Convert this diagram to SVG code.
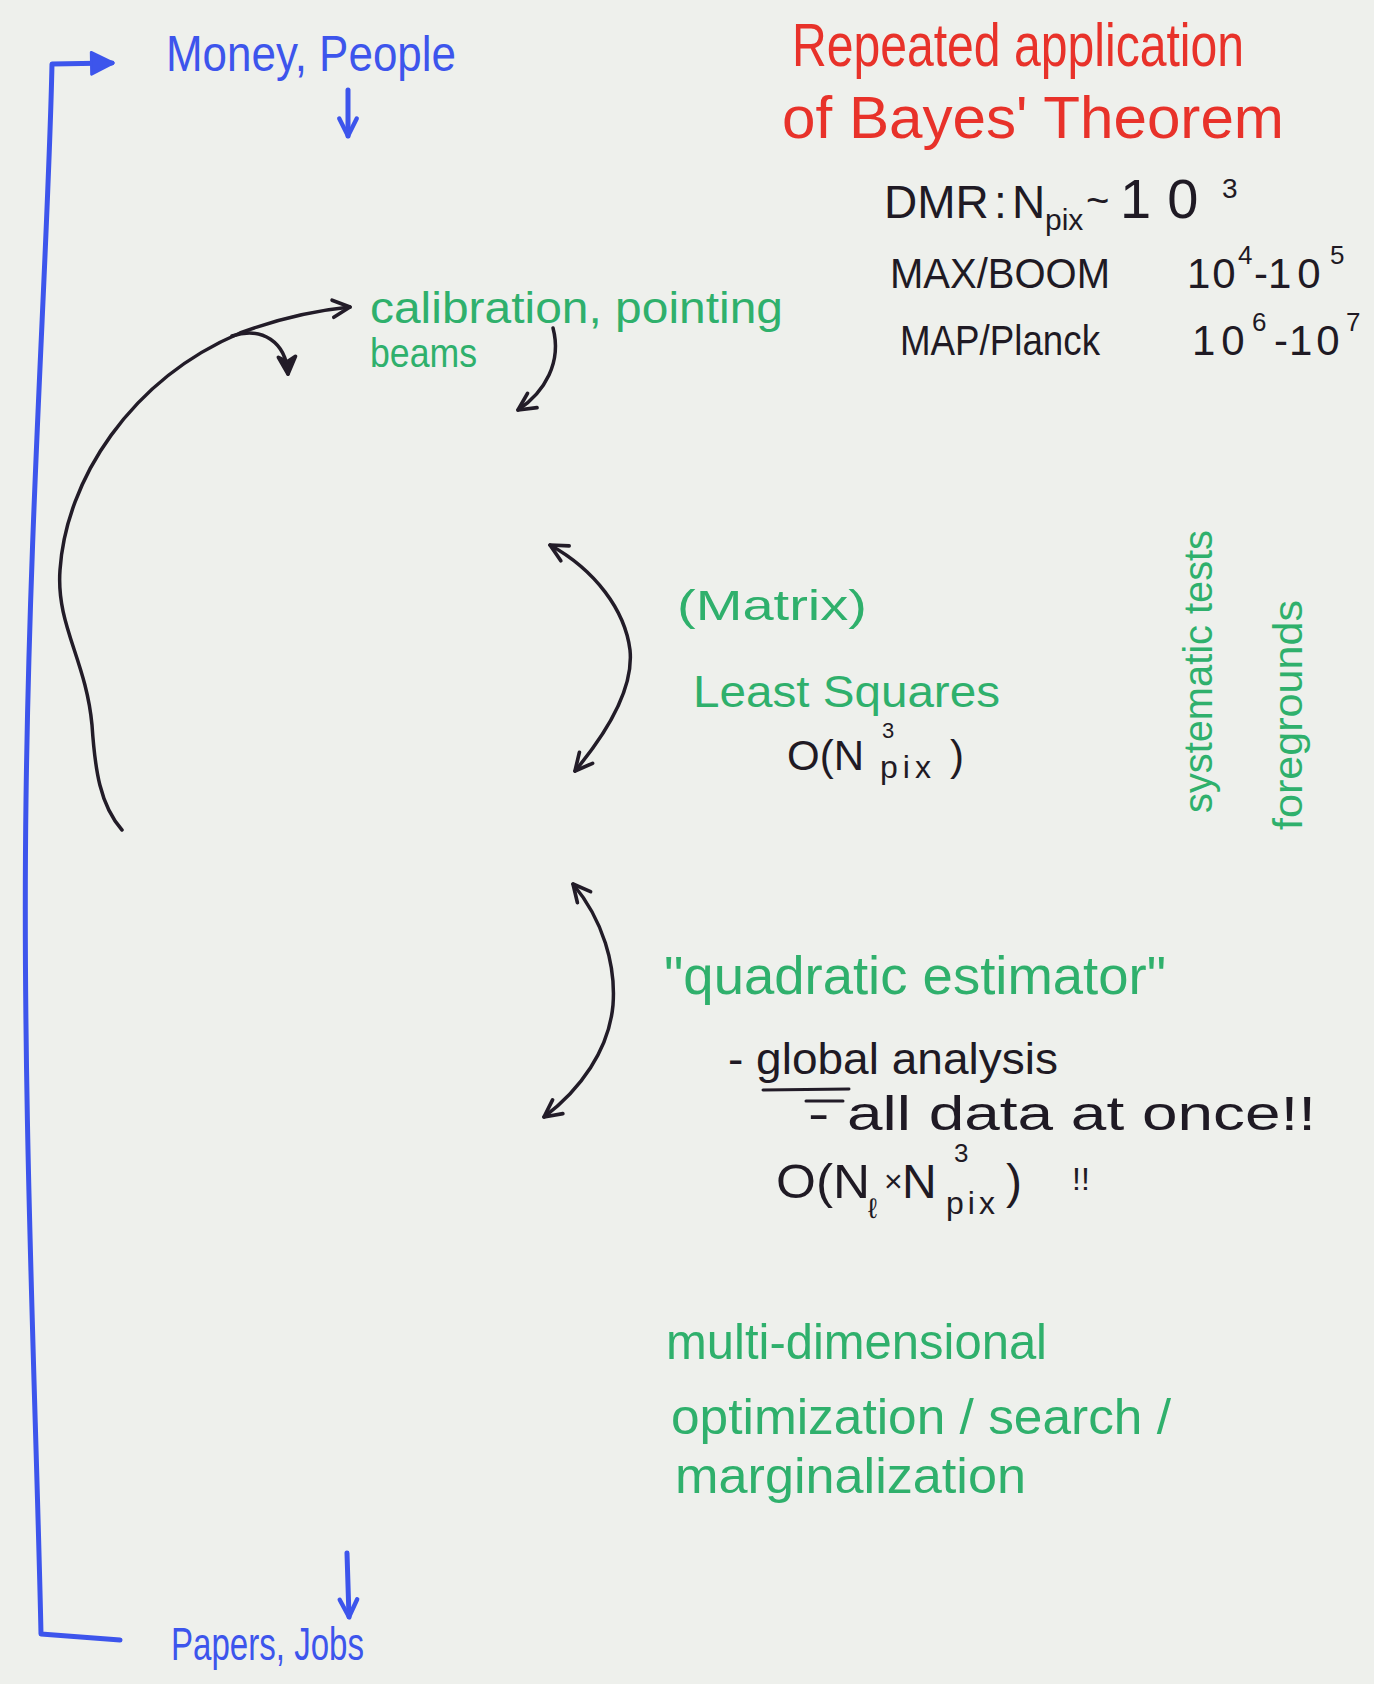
<svg xmlns="http://www.w3.org/2000/svg" width="1374" height="1684" viewBox="0 0 1374 1684">
<style>
  .t{font-family:"Liberation Sans","DejaVu Sans",sans-serif;}
  .blue{fill:#3d55ec;}
  .red{fill:#e8322a;}
  .green{fill:#2fb06c;}
  .black{fill:#1f1a24;}
  .ck{fill:none;stroke:#221c28;stroke-width:3.5;stroke-linecap:round;stroke-linejoin:round;}
  .cb{fill:none;stroke:#3d55ec;stroke-width:5;stroke-linecap:round;stroke-linejoin:round;}
</style>
<defs>
  <marker id="ahk" viewBox="0 0 20 20" refX="17" refY="10" markerWidth="7" markerHeight="7" markerUnits="strokeWidth" orient="auto-start-reverse">
    <path d="M3,3 L17,10 L3,17" fill="none" stroke="#221c28" stroke-width="3" stroke-linecap="round" stroke-linejoin="round"/>
  </marker>
  <marker id="ahkf" viewBox="0 0 20 20" refX="17" refY="10" markerWidth="7" markerHeight="7" markerUnits="strokeWidth" orient="auto">
    <path d="M3,3 L17,10 L3,17 L7,10 z" fill="#221c28" stroke="#221c28" stroke-width="3" stroke-linejoin="round"/>
  </marker>
  <marker id="ahb" viewBox="0 0 20 20" refX="17" refY="10" markerWidth="5" markerHeight="5" markerUnits="strokeWidth" orient="auto">
    <path d="M3,3 L17,10 L3,17" fill="none" stroke="#3d55ec" stroke-width="3.5" stroke-linecap="round" stroke-linejoin="round"/>
  </marker>
  <marker id="ahbt" viewBox="0 0 20 20" refX="17" refY="10" markerWidth="5.5" markerHeight="6" markerUnits="strokeWidth" orient="auto">
    <path d="M2,2 L18,10 L2,18 z" fill="#3d55ec" stroke="#3d55ec" stroke-width="2" stroke-linejoin="round"/>
  </marker>
</defs>
<rect x="0" y="0" width="1374" height="1684" fill="#eef0ec"/>

<g id="connectors">
  <path id="feedback-loop" class="cb" d="M120,1640 L41,1634 C 36,1400 22,1100 26,800 C 30,500 48,250 52,64 L112,63" marker-end="url(#ahbt)"/>
  <path id="money-down" class="cb" d="M348,90 L348,136" marker-end="url(#ahb)"/>
  <path id="papers-down" class="cb" d="M347,1553 L349,1617" marker-end="url(#ahb)"/>
  <path id="big-loop" class="ck" d="M122,830 C 100,805 95,770 92,725 C 86,660 56,625 60,570 C 66,480 130,380 240,333 C 280,318 320,310 350,307" marker-end="url(#ahk)"/>
  <path id="big-loop-branch" class="ck" d="M232,336 C 262,326 286,342 288,374" marker-end="url(#ahkf)"/>
  <path id="calib-down" class="ck" d="M553,328 C 562,362 545,392 518,410" marker-end="url(#ahk)"/>
  <path id="matrix-loop" class="ck" d="M550,545 C 595,570 625,610 630,650 C 634,690 605,735 575,771" marker-start="url(#ahk)" marker-end="url(#ahk)"/>
  <path id="quad-loop" class="ck" d="M573,884 C 603,920 616,965 613,1005 C 609,1050 580,1090 544,1117" marker-start="url(#ahk)" marker-end="url(#ahk)"/>
  <path id="global-underline" class="ck" d="M763,1090 L849,1089 M806,1101 L843,1101" style="stroke-width:3"/>
</g>

<g id="money-people">
  <text class="t blue" x="166" y="71" font-size="50" textLength="290" lengthAdjust="spacingAndGlyphs">Money, People</text>
</g>

<g id="papers-jobs">
  <text class="t blue" x="171" y="1660" font-size="46" textLength="193" lengthAdjust="spacingAndGlyphs">Papers, Jobs</text>
</g>

<g id="title">
  <text class="t red" x="792" y="66" font-size="62" textLength="452" lengthAdjust="spacingAndGlyphs">Repeated application</text>
  <text class="t red" x="782" y="138" font-size="60" textLength="502" lengthAdjust="spacingAndGlyphs">of Bayes' Theorem</text>
</g>

<g id="pixel-counts">
  <text class="t black" font-size="46" y="218"><tspan x="884">DMR</tspan><tspan x="994">:</tspan><tspan x="1012">N</tspan><tspan x="1045" y="230" font-size="30">pix</tspan><tspan x="1086" y="214" font-size="40">~</tspan><tspan x="1120" y="218" font-size="56" letter-spacing="16">10</tspan><tspan x="1222" y="198" font-size="28">3</tspan></text>
  <text class="t black" font-size="42" y="288"><tspan x="890" textLength="220" lengthAdjust="spacingAndGlyphs">MAX/BOOM</tspan><tspan x="1187" letter-spacing="2">10</tspan><tspan x="1238" y="264" font-size="26">4</tspan><tspan x="1254" y="288">-</tspan><tspan x="1268" letter-spacing="6">10</tspan><tspan x="1330" y="264" font-size="26">5</tspan></text>
  <text class="t black" font-size="42" y="355"><tspan x="900" textLength="200" lengthAdjust="spacingAndGlyphs">MAP/Planck</tspan><tspan x="1192" letter-spacing="6">10</tspan><tspan x="1252" y="331" font-size="26">6</tspan><tspan x="1274" y="355">-</tspan><tspan x="1289" letter-spacing="4">10</tspan><tspan x="1346" y="331" font-size="26">7</tspan></text>
</g>

<g id="calibration">
  <text class="t green" x="370" y="323" font-size="44" textLength="413" lengthAdjust="spacingAndGlyphs">calibration, pointing</text>
  <text class="t green" x="370" y="367" font-size="40" textLength="107" lengthAdjust="spacingAndGlyphs">beams</text>
</g>

<g id="least-squares">
  <text class="t green" x="677" y="620" font-size="42" textLength="190" lengthAdjust="spacingAndGlyphs">(Matrix)</text>
  <text class="t green" x="693" y="707" font-size="44" textLength="307" lengthAdjust="spacingAndGlyphs">Least Squares</text>
  <text class="t black" font-size="42" y="770"><tspan x="787">O(N</tspan><tspan font-size="22" x="882" y="738">3</tspan><tspan font-size="32" x="880" y="778" letter-spacing="5">pix</tspan><tspan x="950" y="770">)</tspan></text>
</g>

<g id="side-notes">
  <text class="t green" font-size="40" transform="translate(1212,813) rotate(-90)" textLength="283" lengthAdjust="spacingAndGlyphs">systematic tests</text>
  <text class="t green" font-size="40" transform="translate(1302,830) rotate(-90)" textLength="230" lengthAdjust="spacingAndGlyphs">foregrounds</text>
</g>

<g id="quadratic-estimator">
  <text class="t green" x="664" y="994" font-size="54" textLength="502" lengthAdjust="spacingAndGlyphs">"quadratic estimator"</text>
  <text class="t black" x="728" y="1074" font-size="44" textLength="330" lengthAdjust="spacingAndGlyphs">- global analysis</text>
  <text class="t black" x="808" y="1130" font-size="48" textLength="508" lengthAdjust="spacingAndGlyphs">- all data at once!!</text>
  <text class="t black" font-size="48" y="1198"><tspan x="776" textLength="94" lengthAdjust="spacingAndGlyphs">O(N</tspan><tspan font-size="28" x="868" y="1218">ℓ</tspan><tspan font-size="32" x="884" y="1192">×</tspan><tspan x="902" y="1198">N</tspan><tspan font-size="26" x="954" y="1162">3</tspan><tspan font-size="32" x="946" y="1214" letter-spacing="4">pix</tspan><tspan x="1006" y="1198">)</tspan><tspan x="1072" y="1190" font-size="32">!!</tspan></text>
</g>

<g id="multi-dimensional">
  <text class="t green" x="666" y="1359" font-size="50" textLength="381" lengthAdjust="spacingAndGlyphs">multi-dimensional</text>
  <text class="t green" x="671" y="1434" font-size="50" textLength="500" lengthAdjust="spacingAndGlyphs">optimization / search /</text>
  <text class="t green" x="675" y="1493" font-size="50" textLength="351" lengthAdjust="spacingAndGlyphs">marginalization</text>
</g>
</svg>
